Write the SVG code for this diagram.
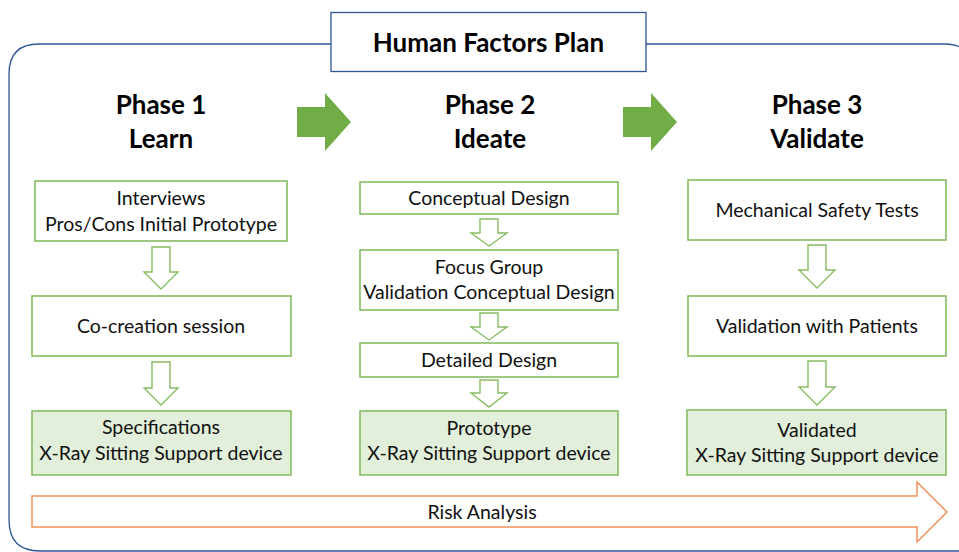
<svg xmlns="http://www.w3.org/2000/svg" width="959" height="552" viewBox="0 0 959 552">
  <style>
    .frame { fill: none; stroke: #2F5597; stroke-width: 1.3; }
    .title-box { fill: #FFFFFF; stroke: #2F5597; stroke-width: 1.3; }
    .title { font-family: Lato, "Liberation Sans", sans-serif; font-weight: bold; font-size: 26px; fill: #000; text-anchor: middle; }
    .phase { font-family: Lato, "Liberation Sans", sans-serif; font-weight: bold; font-size: 26px; fill: #000; text-anchor: middle; }
    .step { fill: #FFFFFF; stroke: #86BC62; stroke-width: 1.6; }
    .result { fill: #E2EFDA; stroke: #86BC62; stroke-width: 1.6; }
    .label { font-family: Lato, "Liberation Sans", sans-serif; font-size: 19.5px; fill: #111; text-anchor: middle; }
    .down { fill: #FFFFFF; stroke: #86BC62; stroke-width: 1.4; stroke-linejoin: miter; }
    .flow { fill: #70AD47; }
    .risk { fill: #FFFFFF; stroke: #F0945A; stroke-width: 1.5; }
  </style>

  <!-- outer plan frame -->
  <path class="frame" d="M 39 44 L 945 44 Q 972 44 972 72 L 972 552 M 9 520 L 9 74 Q 9 44 39 44 M 9 520 Q 9 551 40 551 L 972 551"/>

  <g id="title">
    <rect class="title-box" x="331" y="12.5" width="315" height="59"/>
    <text class="title" x="488.5" y="52">Human Factors Plan</text>
  </g>

  <g id="phase1-header">
    <text class="phase" x="161" y="114">Phase 1</text>
    <text class="phase" x="161" y="148">Learn</text>
  </g>
  <g id="phase2-header">
    <text class="phase" x="490" y="114">Phase 2</text>
    <text class="phase" x="490" y="148">Ideate</text>
  </g>
  <g id="phase3-header">
    <text class="phase" x="817" y="114">Phase 3</text>
    <text class="phase" x="817" y="148">Validate</text>
  </g>

  <!-- Phase 1 steps -->
  <g id="interviews">
    <rect class="step" x="35" y="181" width="252" height="60"/>
    <text class="label" x="161" y="205">Interviews</text>
    <text class="label" x="161" y="231">Pros/Cons Initial Prototype</text>
  </g>
  <g id="co-creation">
    <rect class="step" x="32" y="296" width="259" height="60"/>
    <text class="label" x="161" y="333">Co-creation session</text>
  </g>
  <g id="specifications">
    <rect class="result" x="32" y="411" width="259" height="64"/>
    <text class="label" x="161" y="434">Specifications</text>
    <text class="label" x="161" y="460">X-Ray Sitting Support device</text>
  </g>

  <!-- Phase 2 steps -->
  <g id="conceptual-design">
    <rect class="step" x="360" y="182" width="258" height="32"/>
    <text class="label" x="489" y="205">Conceptual Design</text>
  </g>
  <g id="focus-group">
    <rect class="step" x="360" y="250" width="258" height="60"/>
    <text class="label" x="489" y="274">Focus Group</text>
    <text class="label" x="489" y="299">Validation Conceptual Design</text>
  </g>
  <g id="detailed-design">
    <rect class="step" x="360" y="343" width="258" height="34"/>
    <text class="label" x="489" y="367">Detailed Design</text>
  </g>
  <g id="prototype">
    <rect class="result" x="360" y="411" width="258" height="64"/>
    <text class="label" x="489" y="435">Prototype</text>
    <text class="label" x="489" y="460">X-Ray Sitting Support device</text>
  </g>

  <!-- Phase 3 steps -->
  <g id="safety-tests">
    <rect class="step" x="688" y="180" width="258" height="60"/>
    <text class="label" x="817" y="217">Mechanical Safety Tests</text>
  </g>
  <g id="patient-validation">
    <rect class="step" x="688" y="296" width="258" height="60"/>
    <text class="label" x="817" y="333">Validation with Patients</text>
  </g>
  <g id="validated">
    <rect class="result" x="687" y="410" width="259" height="65"/>
    <text class="label" x="817" y="437">Validated</text>
    <text class="label" x="817" y="462">X-Ray Sitting Support device</text>
  </g>

  <g id="connectors">
    <!-- phase-to-phase arrows -->
    <polygon class="flow" points="297,107 325,107 325,93 351,122 325,151 325,137 297,137"/>
    <polygon class="flow" points="623,107 651,107 651,93 677,122 651,151 651,137 623,137"/>

    <!-- Phase 1 hollow arrows -->
    <polygon class="down" points="152,247 170,247 170,272 178,272 161,289 144,272 152,272"/>
    <polygon class="down" points="152,362 170,362 170,388 178,388 161,405 144,388 152,388"/>

    <!-- Phase 2 hollow arrows -->
    <polygon class="down" points="480,219 498,219 498,233 507,233 489,246 471,233 480,233"/>
    <polygon class="down" points="480,313 498,313 498,327 507,327 489,340 471,327 480,327"/>
    <polygon class="down" points="480,380 498,380 498,393 507,393 489,407 471,393 480,393"/>

    <!-- Phase 3 hollow arrows -->
    <polygon class="down" points="808,245 826,245 826,270 835,270 817,288 799,270 808,270"/>
    <polygon class="down" points="808,361 826,361 826,387 835,387 817,405 799,387 808,387"/>
  </g>

  <g id="risk-analysis">
    <polygon class="risk" points="32,496 917,496 917,482 947,512 917,542 917,527 32,527"/>
    <text class="label" x="482" y="519">Risk Analysis</text>
  </g>
</svg>
